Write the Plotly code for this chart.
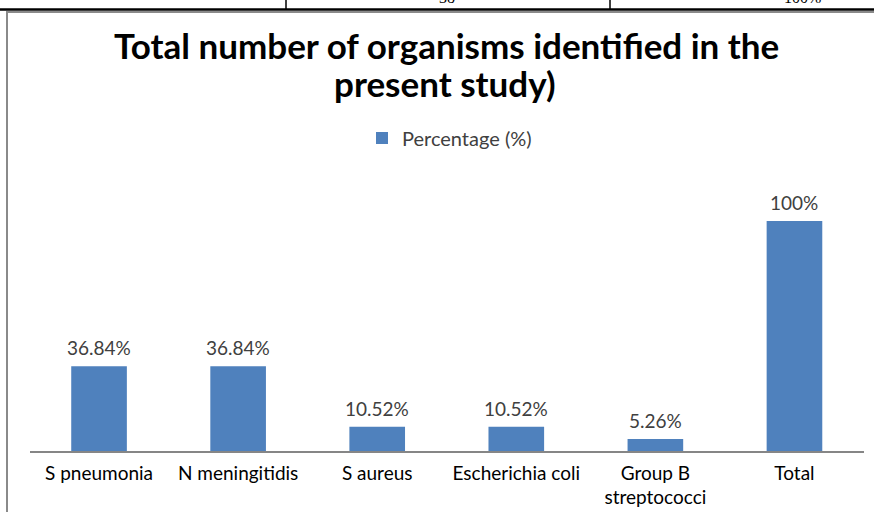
import plotly.graph_objects as go

categories = ["S pneumonia", "N meningitidis", "S aureus", "Escherichia coli",
              "Group B<br>streptococci", "Total"]
percentages = [36.84, 36.84, 10.52, 10.52, 5.26, 100]
value_labels = ["36.84%", "36.84%", "10.52%", "10.52%", "5.26%", "100%"]
series_name = "Percentage (%)"
title_lines = ["Total number of organisms identified in the", "present study)"]
table_cells = ["38", "100%"]

W, H = 874, 512
BAR = "#4F81BD"
FONT = "Lato"

def px(x):
    return x / W

def py(y):
    return (H - y) / H

fig = go.Figure()
fig.add_trace(go.Bar(
    x=categories, y=percentages, name=series_name,
    marker=dict(color=BAR, line=dict(width=0)),
    showlegend=True,
))

for c, v, t in zip(categories, percentages, value_labels):
    fig.add_annotation(x=c, y=v, text=t, showarrow=False, xref="x", yref="y",
                       yanchor="bottom", yshift=5,
                       font=dict(family=FONT, size=19, color="#404040"))

# title lines
fig.add_annotation(x=px(447), y=py(68), xref="paper", yref="paper", text=title_lines[0],
                   showarrow=False, yanchor="bottom", xanchor="center",
                   font=dict(family=FONT, size=35, color="#000000", weight="bold"))
fig.add_annotation(x=px(445), y=py(106), xref="paper", yref="paper", text=title_lines[1],
                   showarrow=False, yanchor="bottom", xanchor="center",
                   font=dict(family=FONT, size=35, color="#000000", weight="bold"))

# table fragment above the chart (cut off at the top, as in the source page)
for cx, txt in zip([447, 802], table_cells):
    fig.add_annotation(x=px(cx), y=py(8), xref="paper", yref="paper", text=txt,
                       showarrow=False, yanchor="bottom", xanchor="center",
                       font=dict(family="Liberation Serif", size=16, color="#000"))

shapes = [
    dict(type="line", xref="paper", yref="paper", x0=0, x1=1, y0=py(9.5), y1=py(9.5),
         line=dict(color="#000000", width=2.5)),
    dict(type="line", xref="paper", yref="paper", x0=px(286), x1=px(286), y0=py(0), y1=py(9),
         line=dict(color="#000000", width=1.5)),
    dict(type="line", xref="paper", yref="paper", x0=px(610), x1=px(610), y0=py(0), y1=py(9),
         line=dict(color="#000000", width=1.5)),
    dict(type="line", xref="paper", yref="paper", x0=px(6), x1=1, y0=py(12), y1=py(12),
         line=dict(color="#8a8a8a", width=2)),
    dict(type="line", xref="paper", yref="paper", x0=px(7), x1=px(7), y0=py(11), y1=0,
         line=dict(color="#8a8a8a", width=2)),
]

fig.update_layout(
    width=W, height=H, autosize=False,
    margin=dict(l=0, r=0, t=0, b=0),
    paper_bgcolor="white", plot_bgcolor="white",
    bargap=0.6,
    shapes=shapes,
    legend=dict(orientation="h", x=px(362), xanchor="left", y=py(138), yanchor="middle",
                font=dict(family=FONT, size=20, color="#404040"),
                bgcolor="rgba(0,0,0,0)", itemwidth=30),
    xaxis=dict(domain=[px(29.5), px(864)], showline=True, linecolor="#868686", linewidth=1.5,
               ticks="", showgrid=False, ticklabelstandoff=4,
               tickfont=dict(family=FONT, size=19, color="#000000")),
    yaxis=dict(domain=[py(451), py(198)], range=[0, 110], visible=False, showgrid=False),
    font=dict(family=FONT),
)

fig.write_html("out.html", config={"displayModeBar": False},
               post_script="document.body.style.margin='0';")
